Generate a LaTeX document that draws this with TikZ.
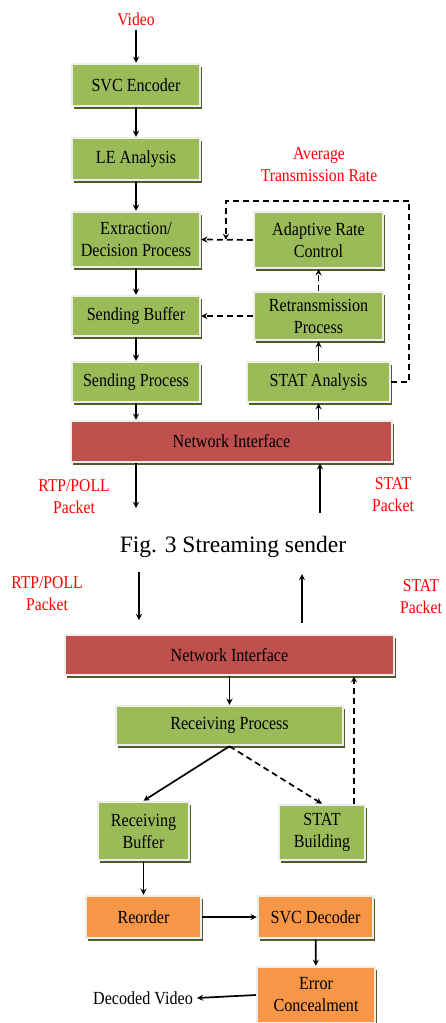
\documentclass[tikz,border=0pt]{standalone}
\usepackage{fontspec}
\setmainfont{Liberation Serif}
\newfontfamily\boxfont{Liberation Serif}[FakeStretch=0.87]
\usetikzlibrary{shadows,calc}

\definecolor{boxgreen}{RGB}{155,187,89}
\definecolor{boxred}{RGB}{192,80,77}
\definecolor{boxorange}{RGB}{247,150,70}
\definecolor{boxframe}{RGB}{238,238,236}
\definecolor{boxshade}{RGB}{79,90,45}

\tikzset{
  blk/.style={draw=boxframe, line width=2.5pt, inner sep=0pt, align=center,
    font=\boxfont\fontsize{18.5}{22}\selectfont,
    drop shadow={shadow xshift=2.4pt, shadow yshift=-2.6pt, opacity=1, fill=boxshade}},
  gbox/.style={blk, fill=boxgreen},
  rbox/.style={blk, fill=boxred},
  obox/.style={blk, fill=boxorange},
  lbl/.style={red, align=center, font=\boxfont\fontsize{18}{22}\selectfont},
  fbline/.style={dash pattern=on 6pt off 4pt},
}

\begin{document}
\begin{tikzpicture}[x=1pt, y=-1pt, >=stealth, line width=1.7pt]
    \useasboundingbox (0,0) rectangle (445,1023);

    % Sender blocks
    \node[gbox, minimum width=128, minimum height=42] (enc) at (136,85) {SVC Encoder};
    \node[gbox, minimum width=128, minimum height=42] (le) at (136,159) {LE Analysis};
    \node[gbox, minimum width=128, minimum height=55] (ext) at (136,239.5) {Extraction/\\Decision Process};
    \node[gbox, minimum width=128, minimum height=40] (sbuf) at (136,316) {Sending Buffer};
    \node[gbox, minimum width=128, minimum height=40] (sproc) at (136,382) {Sending Process};
    \node[gbox, minimum width=129, minimum height=56] (arc) at (318.5,240) {Adaptive Rate\\Control};
    \node[gbox, minimum width=129, minimum height=48] (retx) at (318.5,316) {Retransmission\\Process};
    \node[gbox, minimum width=143, minimum height=40] (stata) at (318.5,382) {STAT Analysis};
    \node[rbox, minimum width=321, minimum height=41] (ni1) at (231.5,441.5) {Network Interface};

    % Sender labels
    \node[lbl] (video) at (136,19) {Video};
    \node[lbl] (avg) at (319,165) {Average\\Transmission Rate};
    \node[lbl] (rtp1) at (74,497) {RTP/POLL\\Packet};
    \node[lbl] (stp1) at (393,495) {STAT\\Packet};
    \node[font=\fontsize{23.5}{28}\selectfont] (cap) at (233,547) {Fig. 3 Streaming sender};

    % Sender arrows
    \draw[->] (video) -- (enc);
    \draw[->] (enc) -- (le);
    \draw[->] (le) -- (ext);
    \draw[->] (ext) -- (sbuf);
    \draw[->] (sbuf) -- (sproc);
    \draw[->] (sproc) -- (sproc |- ni1.north);
    \draw[->] (stata.south |- ni1.north) -- (stata);
    \draw[->] (stata) -- (retx);
    \draw[->, fbline] (retx) -- (arc);
    \draw[->, fbline] (retx.west) -- (sbuf.east);
    \draw[->, fbline] (arc.west) -- (ext.east);
    \coordinate (avgtap) at ($(ext.east)!0.48!(arc.west)$);
    \draw[->, fbline] (stata.east) -- ++(18,0) |- ($(avgtap)+(0,-39)$) -- (avgtap);
    \coordinate (rtpout) at (136,508);
    \coordinate (statin) at (320,513);
    \draw[->] (rtpout |- ni1.south) -- (rtpout);
    \draw[->] (statin) -- (statin |- ni1.south);

    % Receiver blocks
    \node[rbox, minimum width=329, minimum height=40] (ni2) at (229.5,655) {Network Interface};
    \node[gbox, minimum width=227, minimum height=39] (rproc) at (229.5,725.5) {Receiving Process};
    \node[gbox, minimum width=91, minimum height=58] (rbuf) at (143.5,831) {Receiving\\Buffer};
    \node[gbox, minimum width=86, minimum height=55] (statb) at (322,832.5) {STAT\\Building};
    \node[obox, minimum width=115, minimum height=42] (reord) at (143.5,917) {Reorder};
    \node[obox, minimum width=115, minimum height=42] (dec) at (315.5,917) {SVC Decoder};
    \node[obox, minimum width=118, minimum height=56] (ec) at (316,995) {Error\\Concealment};

    % Receiver labels
    \node[lbl] (rtp2) at (47,594) {RTP/POLL\\Packet};
    \node[lbl] (stp2) at (421,597) {STAT\\Packet};
    \node[font=\boxfont\fontsize{18.5}{22}\selectfont] (dv) at (143,998) {Decoded Video};

    % Receiver arrows
    \coordinate (rtpin) at (139,572);
    \coordinate (rtpend) at (139,620);
    \coordinate (statsrc) at (302,623);
    \coordinate (statdst) at (302,574);
    \draw[->] (rtpin) -- (rtpend);
    \draw[->] (statsrc) -- (statdst);
    \draw[->] (ni2) -- (rproc);
    \draw[->] (rproc.south) -- (rbuf.north);
    \draw[->, fbline] (rproc.south) -- (statb.north);
    \coordinate (fb) at (354,0);
    \draw[->, fbline] (fb |- statb.north) -- (fb |- ni2.south);
    \draw[->] (rbuf) -- (reord);
    \draw[->] (reord) -- (dec);
    \draw[->] (dec) -- (ec);
    \draw[->] (ec.west) -- (dv.east);
\end{tikzpicture}
\end{document}
